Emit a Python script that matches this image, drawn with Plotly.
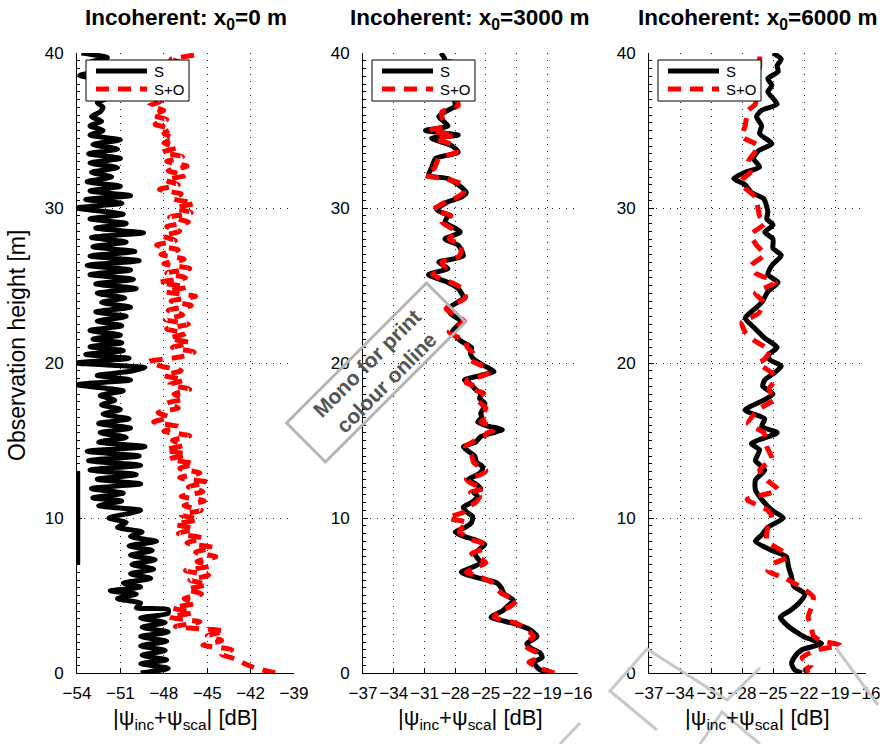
import math
import plotly.graph_objects as go

# ---------------- data ----------------
TITLES = ["Incoherent: x<sub>0</sub>=0 m", "Incoherent: x<sub>0</sub>=3000 m", "Incoherent: x<sub>0</sub>=6000 m"]
X_LABEL = "|ψ<sub>inc</sub>+ψ<sub>sca</sub>| [dB]"
Y_LABEL = "Observation height [m]"
SERIES_NAMES = ["S", "S+O"]

P1_TICKS = [-54, -51, -48, -45, -42, -39]
P23_TICKS = [-37, -34, -31, -28, -25, -22, -19, -16]
Y_TICKS = [0, 10, 20, 30, 40]

# Panel 1 (x0 = 0 m), S
p1_s_h = [0.0, 0.3, 0.6, 0.85, 1.15, 1.45, 1.75, 2.05, 2.35, 2.65, 2.95, 3.25, 3.55, 3.85, 4.1, 4.2,
          4.5, 4.8, 5.1, 5.3, 5.55, 5.8, 6.1, 6.4, 6.7, 7.0, 7.3, 7.6, 7.9, 8.2, 8.5, 8.8, 9.1, 9.4,
          9.7, 10.0, 10.3, 10.5, 10.8, 11.1, 11.3, 11.6, 11.9, 12.2, 12.5, 12.8, 13.1, 13.4, 13.7,
          14.0, 14.3, 14.6, 14.9, 15.2, 15.5, 15.8, 16.1, 16.4, 16.7, 17.0, 17.3, 17.6, 17.9, 18.2,
          18.6, 18.9, 19.2, 19.45, 19.7, 20.0, 20.3, 20.55, 20.8, 21.05, 21.3, 21.55, 21.8, 22.1,
          22.4, 22.7, 23.0, 23.3, 23.6, 23.9, 24.2, 24.5, 24.8, 25.1, 25.4, 25.7, 26.0, 26.3, 26.6,
          26.9, 27.2, 27.5, 27.8, 28.1, 28.4, 28.7, 29.0, 29.3, 29.6, 30.0, 30.3, 30.55, 30.8, 31.1,
          31.4, 31.7, 32.0, 32.3, 32.6, 32.9, 33.2, 33.5, 33.8, 34.1, 34.4, 34.7, 35.0, 35.3, 35.6,
          35.9, 36.2, 36.5, 36.8, 37.1, 37.4, 37.7, 38.0, 38.3, 38.55, 38.8, 39.1, 39.4, 39.7, 40.0]
p1_s_v = [-49.6, -47.7, -49.6, -47.8, -49.5, -47.9, -49.6, -47.8, -49.6, -47.7, -49.5, -47.9, -49.6,
          -47.7, -47.7, -49.9, -49.6, -51.2, -49.9, -51.7, -49.6, -50.8, -48.9, -50.3, -48.7, -50.2,
          -48.6, -50.3, -48.8, -50.4, -48.5, -50.3, -49.5, -51.2, -50.6, -51.8, -50.4, -49.6, -52.5,
          -50.9, -52.9, -50.8, -53.0, -49.6, -52.6, -49.9, -53.1, -49.6, -53.2, -49.7, -53.3, -49.3,
          -52.5, -50.6, -52.4, -50.3, -52.5, -50.4, -52.2, -51.0, -52.3, -51.4, -52.4, -50.8, -54.0,
          -50.3, -52.6, -50.4, -49.3, -54.0, -50.4, -53.4, -50.8, -53.1, -50.9, -52.9, -51.0, -53.1,
          -50.9, -52.6, -50.6, -52.7, -50.3, -52.3, -50.7, -52.6, -49.9, -52.7, -50.1, -53.1, -50.3,
          -53.3, -49.7, -53.1, -50.0, -52.9, -50.6, -53.0, -49.4, -52.7, -50.6, -53.1, -50.8, -54.0,
          -50.9, -53.4, -50.3, -53.1, -51.0, -53.3, -51.6, -53.0, -51.2, -53.1, -51.0, -53.2, -51.2,
          -52.9, -51.0, -53.1, -52.2, -53.1, -52.3, -53.0, -52.4, -52.2, -52.6, -51.9, -52.0, -52.4,
          -52.0, -52.5, -53.8, -52.6, -51.9, -53.1, -51.9, -53.7]
# Panel 1, S: short stretch lying on the left edge of the axis
p1_s_edge_h = [7.0, 13.0]
p1_s_edge_v = [-53.9, -53.9]

# Panel 1, S+O
p1_so_h = [0.0, 0.3, 0.6, 0.9, 1.2, 1.5, 1.8, 2.1, 2.4, 2.7, 3.0, 3.3, 3.6, 3.9, 4.2, 4.5, 4.8, 5.1,
           5.4, 5.7, 6.0, 6.3, 6.6, 6.9, 7.2, 7.5, 7.8, 8.1, 8.4, 8.7, 9.0, 9.3, 9.6, 9.9, 10.2, 10.5,
           10.8, 11.1, 11.4, 11.7, 12.0, 12.3, 12.6, 12.9, 13.2, 13.5, 13.8, 14.1, 14.4, 14.7, 15.0,
           15.3, 15.6, 15.9, 16.2, 16.5, 16.8, 17.1, 17.4, 17.7, 18.0, 18.3, 18.6, 18.9, 19.2, 19.5,
           19.8, 20.1, 20.4, 20.7, 21.0, 21.3, 21.6, 21.9, 22.2, 22.5, 22.8, 23.1, 23.4, 23.7, 24.0,
           24.3, 24.6, 24.9, 25.2, 25.5, 25.8, 26.1, 26.4, 26.7, 27.0, 27.3, 27.6, 27.9, 28.2, 28.5,
           28.8, 29.1, 29.4, 29.7, 30.0, 30.3, 30.6, 30.9, 31.2, 31.5, 31.8, 32.1, 32.4, 32.7, 33.0,
           33.3, 33.6, 33.9, 34.2, 34.5, 34.8, 35.1, 35.4, 35.7, 36.0, 36.3, 36.6, 36.9, 37.2, 37.5,
           37.8, 38.1, 38.4, 38.7, 39.0, 39.3, 39.6, 39.9, 40.0]
p1_so_v = [-40.3, -41.6, -42.4, -43.0, -44.0, -43.3, -45.3, -44.0, -45.0, -43.8, -47.2, -45.5, -47.6,
           -46.0, -47.4, -45.8, -46.6, -45.4, -46.4, -45.0, -46.2, -44.9, -46.5, -44.8, -45.7, -44.4,
           -45.8, -44.6, -46.4, -45.3, -47.0, -45.9, -47.2, -45.6, -46.8, -45.4, -46.6, -45.2, -46.8,
           -45.3, -46.3, -45.0, -46.9, -45.5, -46.9, -45.9, -47.6, -46.4, -47.9, -46.6, -47.4, -46.2,
           -48.0, -47.0, -48.7, -47.6, -48.4, -47.0, -47.8, -46.6, -47.3, -46.2, -47.6, -46.6, -48.0,
           -46.8, -48.2, -49.0, -46.8, -45.9, -47.4, -46.2, -47.6, -46.5, -47.8, -46.3, -47.9, -46.7,
           -47.7, -46.1, -47.5, -45.8, -47.9, -46.4, -48.3, -46.5, -47.8, -46.2, -48.0, -46.6, -48.2,
           -47.0, -48.5, -47.2, -48.1, -46.9, -47.8, -46.3, -47.6, -46.1, -47.2, -45.9, -47.4, -46.8,
           -48.3, -47.0, -47.9, -46.5, -47.7, -46.4, -47.8, -46.7, -48.1, -47.1, -48.0, -47.3, -48.0,
           -47.5, -48.6, -47.8, -48.8, -48.0, -49.0, -48.2, -48.6, -47.5, -48.2, -47.0, -47.8, -46.9,
           -48.0, -46.6, -47.5, -45.8, -46.2]

# Panel 2 (x0 = 3000 m)
p2_s_h = [0.0, 0.3, 0.7, 1.0, 1.3, 1.6, 1.9, 2.35, 2.8, 3.2, 3.6, 4.0, 4.3, 4.7, 5.1, 5.5, 5.8, 6.2,
          6.5, 6.8, 7.1, 7.4, 7.7, 8.0, 8.3, 8.6, 8.85, 9.1, 9.4, 9.7, 10.1, 10.4, 10.7, 11.0, 11.4,
          11.65, 11.9, 12.2, 12.5, 12.8, 13.05, 13.3, 13.6, 14.0, 14.3, 14.6, 14.9, 15.25, 15.5, 15.7,
          15.95, 16.2, 16.5, 16.75, 17.1, 17.4, 17.7, 18.05, 18.3, 18.5, 18.7, 18.9, 19.2, 19.45, 19.8,
          20.2, 20.6, 21.0, 21.4, 22.0, 22.7, 23.1, 23.5, 24.2, 24.8, 25.2, 25.7, 26.1, 26.5, 26.9,
          27.6, 28.0, 28.45, 29.1, 29.5, 29.9, 30.4, 30.7, 31.0, 31.5, 31.9, 32.1, 32.6, 33.2, 33.6,
          34.0, 34.5, 34.7, 35.0, 35.3, 35.9, 36.2, 36.6, 37.2, 37.8, 38.5, 39.2, 39.6, 40.0]
p2_s_v = [-19.1, -19.9, -20.3, -19.5, -19.7, -20.6, -21.0, -20.0, -20.7, -22.3, -24.5, -23.4, -22.9,
          -22.3, -23.2, -23.5, -23.9, -26.1, -27.4, -26.4, -25.5, -25.8, -26.1, -25.6, -25.1, -26.1,
          -27.3, -28.0, -27.0, -26.4, -26.3, -26.9, -27.2, -26.4, -25.8, -26.2, -25.5, -26.0, -26.7,
          -25.8, -25.4, -25.3, -25.9, -26.1, -26.7, -27.2, -26.0, -25.5, -24.3, -23.4, -24.9, -25.8,
          -25.4, -25.5, -25.2, -25.1, -25.6, -25.5, -26.0, -26.3, -26.6, -27.1, -25.5, -24.2, -25.1,
          -26.1, -26.5, -26.4, -27.4, -28.3, -27.4, -28.3, -28.7, -27.2, -27.7, -28.7, -30.6, -28.7,
          -29.6, -27.2, -27.7, -29.0, -27.5, -29.0, -28.7, -29.8, -28.7, -27.4, -26.9, -27.7, -28.7,
          -30.6, -30.3, -29.9, -27.7, -28.3, -30.3, -27.7, -30.9, -28.7, -29.6, -29.0, -28.0, -28.2,
          -28.5, -28.8, -29.2, -29.0, -29.4]
p2_so_h = [0.0, 0.3, 0.7, 1.0, 1.3, 1.6, 1.9, 2.35, 2.8, 3.2, 3.6, 4.0, 4.3, 4.7, 5.1, 5.5, 5.8, 6.2,
           6.5, 6.8, 7.1, 7.4, 7.7, 8.0, 8.3, 8.6, 8.85, 9.1, 9.4, 9.7, 10.0, 10.4, 10.7, 11.0, 11.4,
           11.65, 11.9, 12.2, 12.5, 12.8, 13.05, 13.3, 13.6, 14.0, 14.3, 14.6, 14.9, 15.25, 15.5, 15.7,
           15.95, 16.2, 16.5, 16.75, 17.1, 17.4, 17.7, 18.05, 18.3, 18.5, 18.7, 18.9, 19.2, 19.45, 19.8,
           20.2, 20.6, 21.0, 21.4, 22.0, 22.7, 23.1, 23.5, 24.2, 24.8, 25.2, 25.7, 26.1, 26.5, 26.9,
           27.6, 28.0, 28.45, 29.1, 29.5, 29.9, 30.4, 30.7, 31.0, 31.5, 31.9, 32.1, 32.6, 33.2, 33.6,
           34.0, 34.5, 34.7, 35.0, 35.3, 35.9, 36.2, 36.6, 37.2, 37.8, 38.5, 39.2, 39.6, 40.0]
p2_so_v = [-18.3, -19.6, -20.8, -19.8, -20.0, -20.9, -21.2, -20.3, -21.0, -22.0, -24.2, -23.6, -22.6,
           -22.0, -23.4, -24.0, -24.3, -25.6, -26.9, -26.0, -25.0, -25.5, -26.4, -25.3, -25.0, -26.4,
           -27.0, -27.6, -27.3, -26.8, -28.7, -27.1, -26.8, -26.0, -25.6, -26.5, -25.2, -26.3, -26.9,
           -25.5, -25.0, -25.6, -26.2, -26.4, -26.9, -27.0, -26.3, -25.2, -24.8, -24.2, -24.5, -25.5,
           -24.9, -25.2, -25.0, -25.5, -25.9, -25.2, -26.3, -26.0, -26.9, -26.8, -25.2, -24.6, -25.3,
           -26.5, -26.2, -26.8, -27.0, -28.6, -27.1, -28.0, -28.9, -27.0, -27.3, -28.4, -30.2, -29.0,
           -29.3, -27.6, -27.4, -28.6, -27.9, -29.3, -28.4, -30.1, -28.9, -27.8, -27.2, -27.3, -29.0,
           -30.9, -30.0, -29.6, -27.9, -28.0, -30.0, -28.0, -30.6, -29.0, -29.3, -29.3, -27.7, -28.0,
           -28.8, -28.4, -28.8, -28.4, -28.6]

# Panel 3 (x0 = 6000 m)
p3_s_h = [0.0, 0.2, 0.6, 1.05, 1.5, 1.9, 2.3, 3.0, 3.6, 4.0, 4.5, 5.1, 5.6, 6.2, 6.85, 7.5, 7.9, 8.5,
          8.9, 9.4, 10.0, 10.5, 11.2, 11.8, 12.45, 13.1, 13.7, 14.4, 14.8, 15.5, 15.9, 16.4, 16.96,
          17.6, 18.0, 18.5, 18.9, 19.3, 19.8, 20.2, 20.5, 21.0, 21.6, 22.2, 22.9, 23.3, 23.9, 24.6,
          25.2, 25.7, 26.3, 26.95, 27.4, 28.0, 28.45, 28.9, 29.3, 29.75, 30.6, 31.0, 31.5, 31.9, 32.3,
          32.65, 33.2, 33.7, 34.15, 34.8, 35.3, 35.9, 36.3, 36.7, 37.5, 37.9, 38.35, 38.8, 39.2, 39.6,
          40.0]
p3_s_v = [-22.2, -22.9, -23.2, -22.9, -22.2, -20.3, -21.9, -23.5, -24.3, -23.4, -22.5, -21.9, -23.0,
          -23.2, -23.5, -23.7, -25.1, -26.7, -26.1, -25.5, -24.0, -25.1, -26.1, -26.7, -26.7, -25.8,
          -26.7, -26.3, -27.1, -24.6, -26.1, -25.8, -27.7, -25.9, -25.0, -26.0, -25.8, -25.0, -24.2,
          -25.3, -25.5, -24.6, -25.8, -26.7, -27.7, -27.1, -26.1, -25.5, -24.5, -25.5, -25.1, -24.2,
          -25.0, -25.0, -25.8, -25.0, -25.6, -25.5, -25.9, -27.1, -27.7, -28.8, -27.7, -26.3, -26.9,
          -26.4, -25.1, -26.3, -26.1, -26.6, -26.1, -24.6, -25.5, -25.1, -25.5, -24.5, -24.6, -24.2,
          -25.0]
p3_so_h = [0.0, 0.2, 0.5, 1.0, 1.5, 1.8, 2.1, 2.4, 3.0, 3.6, 4.2, 4.9, 5.5, 6.1, 6.6, 7.0, 7.5, 7.9,
           8.5, 9.4, 10.0, 10.5, 11.2, 11.8, 12.4, 13.1, 13.8, 14.6, 15.5, 16.1, 17.0, 17.7, 18.3,
           18.9, 19.3, 20.0, 20.2, 20.8, 21.4, 22.0, 22.6, 23.2, 23.9, 24.5, 25.2, 25.8, 26.3, 27.0,
           27.6, 28.3, 29.0, 29.5, 30.7, 31.3, 31.8, 32.3, 33.0, 34.0, 34.6, 35.3, 36.3, 36.7, 37.9,
           39.0, 40.0]
p3_so_v = [-21.5, -21.9, -21.3, -22.2, -20.6, -18.5, -20.4, -21.1, -21.3, -21.6, -21.3, -21.1, -22.2,
           -23.8, -25.5, -25.1, -23.6, -24.2, -25.6, -25.5, -25.1, -25.5, -27.5, -24.5, -25.5, -26.3,
           -25.1, -25.6, -25.9, -27.4, -26.4, -24.8, -25.4, -24.8, -25.0, -26.4, -25.9, -25.3, -26.7,
           -27.7, -28.0, -26.4, -25.9, -26.7, -24.8, -26.7, -27.1, -25.8, -26.6, -27.1, -25.8, -26.3,
           -26.7, -27.7, -28.0, -27.2, -27.4, -26.4, -28.0, -27.7, -27.4, -26.7, -26.7, -26.3, -26.3]

# ---------------- layout helpers ----------------
W, H = 882, 744
FONT = "Liberation Sans, Arial, sans-serif"
S_STYLE = dict(color="black", width=5)
SO_STYLE = dict(color="#ff0000", width=5, dash="13px,9px")


def fx(px):
    return px / W


def fy(py):
    return 1 - py / H


PLOT_TOP, PLOT_BOTTOM = 53, 673
PANELS = [
    dict(left=77, right=294, rng=[-54, -39], ticks=P1_TICKS,
         s=(p1_s_h, p1_s_v), so=(p1_so_h, p1_so_v)),
    dict(left=363, right=578, rng=[-37, -16], ticks=P23_TICKS,
         s=(p2_s_h, p2_s_v), so=(p2_so_h, p2_so_v)),
    dict(left=649, right=866, rng=[-37, -16], ticks=P23_TICKS,
         s=(p3_s_h, p3_s_v), so=(p3_so_h, p3_so_v)),
]

fig = go.Figure()
axis_common = dict(
    showline=True, linecolor="black", linewidth=1, mirror=False,
    ticks="inside", ticklen=5, tickwidth=1, tickcolor="black",
    showgrid=True, gridcolor="#222", gridwidth=1, griddash="1px,6px",
    zeroline=False, tickfont=dict(family=FONT, size=17, color="black"),
    tickangle=0, automargin=False,
)

annotations = []
shapes = []
for i, p in enumerate(PANELS):
    n = "" if i == 0 else str(i + 1)
    fig.add_trace(go.Scatter(
        x=p["s"][1], y=p["s"][0], mode="lines", name=SERIES_NAMES[0], showlegend=False,
        line=dict(S_STYLE, shape="spline", smoothing=0.6),
        xaxis="x" + n, yaxis="y" + n))
    if i == 0:
        fig.add_trace(go.Scatter(
            x=p1_s_edge_v, y=p1_s_edge_h, mode="lines", showlegend=False,
            line=dict(color="black", width=3.5), xaxis="x", yaxis="y"))
    fig.add_trace(go.Scatter(
        x=p["so"][1], y=p["so"][0], mode="lines", name=SERIES_NAMES[1], showlegend=False,
        line=dict(SO_STYLE, shape="spline", smoothing=0.6),
        xaxis="x" + n, yaxis="y" + n))

    fig.update_layout(**{
        "xaxis" + n: dict(axis_common, domain=[fx(p["left"]), fx(p["right"])], range=p["rng"],
                          tickvals=p["ticks"], anchor="y" + n, ticklabelstandoff=5),
        "yaxis" + n: dict(axis_common, domain=[fy(PLOT_BOTTOM), fy(PLOT_TOP)], range=[0, 40],
                          tickvals=Y_TICKS, anchor="x" + n, ticklabelstandoff=9,
                          minor=dict(dtick=0.5, ticks="inside", ticklen=3, tickcolor="black",
                                     showgrid=False)),
    })

    # legend box (drawn per panel)
    lx0 = p["left"] + 9
    ly0 = PLOT_TOP + 7
    shapes.append(dict(type="rect", xref="paper", yref="paper",
                       x0=fx(lx0), x1=fx(lx0 + 103), y0=fy(ly0), y1=fy(ly0 + 41),
                       line=dict(color="black", width=1), fillcolor="white", layer="above"))
    for k, (style, dy) in enumerate([(S_STYLE, 11), (SO_STYLE, 29)]):
        shapes.append(dict(type="line", xref="paper", yref="paper",
                           x0=fx(lx0 + 10), x1=fx(lx0 + 61), y0=fy(ly0 + dy), y1=fy(ly0 + dy),
                           line=style, layer="above"))
        annotations.append(dict(text=SERIES_NAMES[k], x=fx(lx0 + 66), y=fy(ly0 + dy),
                                xref="paper", yref="paper", showarrow=False,
                                xanchor="left", yanchor="middle",
                                font=dict(family=FONT, size=15, color="black")))

    cx = (p["left"] + p["right"]) / 2
    annotations.append(dict(text="<b>" + TITLES[i] + "</b>", x=fx(cx), y=fy(19), xref="paper",
                            yref="paper", showarrow=False, xanchor="center", yanchor="middle",
                            font=dict(family=FONT, size=22.5, color="black")))
    annotations.append(dict(text=X_LABEL, x=fx(cx), y=fy(719), xref="paper", yref="paper",
                            showarrow=False, xanchor="center", yanchor="middle",
                            font=dict(family=FONT, size=22, color="black")))

annotations.append(dict(text=Y_LABEL, x=fx(17), y=fy(346), xref="paper", yref="paper",
                        showarrow=False, textangle=-90, xanchor="center", yanchor="middle",
                        font=dict(family=FONT, size=23, color="black")))

# watermark stamp
scx, scy, half_len, half_w = 376, 372.5, 99, 27.5
ang = math.radians(45)
ux, uy = math.cos(ang), -math.sin(ang)
vx, vy = math.sin(ang), math.cos(ang)
corners = [(scx + sx * half_len * ux + sy * half_w * vx, scy + sx * half_len * uy + sy * half_w * vy)
           for sx, sy in [(-1, -1), (1, -1), (1, 1), (-1, 1)]]
path = "M " + " L ".join(f"{fx(a):.5f},{fy(b):.5f}" for a, b in corners) + " Z"
shapes.append(dict(type="path", path=path, xref="paper", yref="paper",
                   line=dict(color="#b4b4b4", width=3), fillcolor="rgba(0,0,0,0)", layer="above"))
annotations.append(dict(text="<b>Mono for print<br>colour online</b>", x=fx(scx), y=fy(scy),
                        xref="paper", yref="paper", showarrow=False, textangle=-45,
                        xanchor="center", yanchor="middle",
                        font=dict(family=FONT, size=21, color="#555555")))

# faint outline watermark at the bottom right
wm = [(657, 730), (610, 691), (647, 649), (727, 700), (760, 668)]
wm2 = [(560, 744), (580, 723)]
wm3 = [(700, 744), (722, 712), (760, 744)]
wm4 = [(836, 648), (878, 705)]
for pts in (wm, wm2, wm3, wm4):
    shapes.append(dict(type="path", xref="paper", yref="paper",
                       path="M " + " L ".join(f"{fx(a):.5f},{fy(b):.5f}" for a, b in pts),
                       line=dict(color="#c8c8c8", width=3), layer="above"))

fig.update_layout(width=W, height=H, margin=dict(l=0, r=0, t=0, b=0, autoexpand=False),
                  paper_bgcolor="white", plot_bgcolor="white", showlegend=False,
                  annotations=annotations, shapes=shapes,
                  font=dict(family=FONT, color="black"))

fig.write_html("out.html")
